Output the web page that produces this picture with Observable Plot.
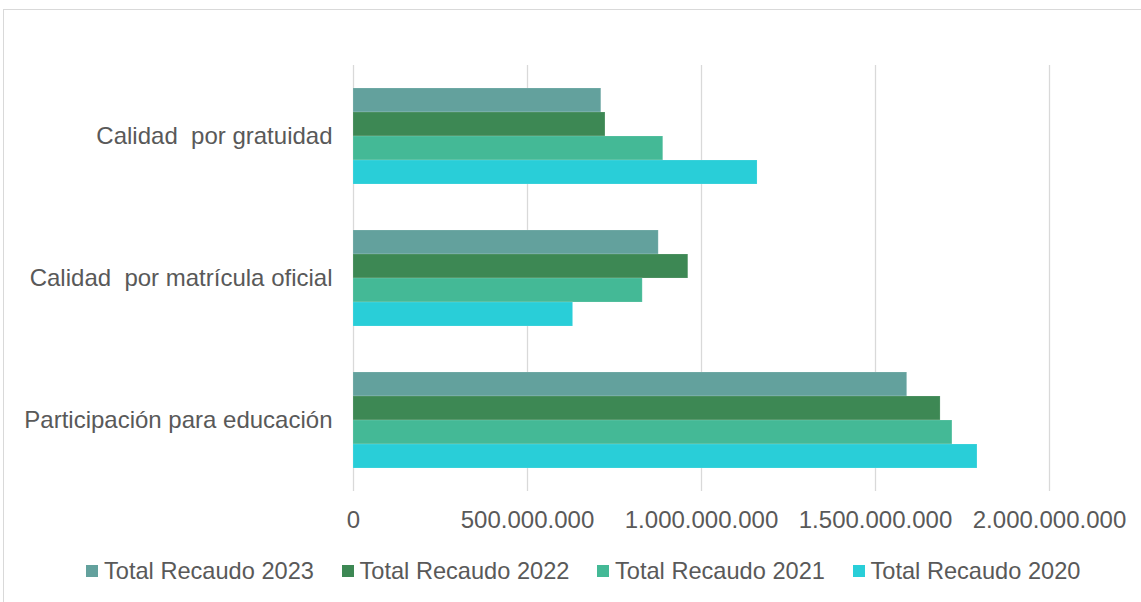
<!DOCTYPE html>
<html>
<head>
<meta charset="utf-8">
<script src="https://cdn.jsdelivr.net/npm/d3@7"></script>
<script src="https://cdn.jsdelivr.net/npm/@observablehq/plot@0.6"></script>
<style>
  html, body { margin: 0; padding: 0; background: #ffffff; overflow: hidden; }
  #wrap { position: relative; width: 1141px; height: 602px; font-family: "Liberation Sans", Arial, sans-serif; }
  #frame { position: absolute; left: 3px; top: 9px; right: -10px; bottom: -10px; border-top: 1px solid #d9d9d9; border-left: 1px solid #d9d9d9; }
  #chart { position: absolute; left: 0; top: 0; }
  #chart svg text { white-space: pre; }
  #legend { position: absolute; left: 86px; top: 557px; display: flex; height: 28px; align-items: center; color: #595959; font-size: 23.6px; }
  .item { display: inline-flex; align-items: center; width: 255.5px; }
  .sw { width: 12px; height: 12px; margin-right: 6px; flex: none; }
</style>
</head>
<body>
<div id="wrap">
  <div id="frame"></div>
  <div id="chart"></div>
  <div id="legend"></div>
</div>
<script>
const categories = ["Calidad  por gratuidad", "Calidad  por matrícula oficial", "Participación para educación"];
const series = ["Total Recaudo 2023", "Total Recaudo 2022", "Total Recaudo 2021", "Total Recaudo 2020"];
const colors = ["#63A19D", "#3D8854", "#44B996", "#29CED8"];
const values2023 = [712e6, 877e6, 1591e6];
const values2022 = [724e6, 962e6, 1687e6];
const values2021 = [890e6, 831e6, 1721e6];
const values2020 = [1161e6, 631e6, 1793e6];
const xTicks = [0, 500e6, 1000e6, 1500e6, 2000e6];

const seriesValues = [values2023, values2022, values2021, values2020];
const data = categories.flatMap((c, i) => series.map((s, j) => ({category: c, series: s, value: seriesValues[j][i]})));

const fmt = d3.formatLocale({decimal: ",", thousands: ".", grouping: [3], currency: ["", ""]}).format(",");

const chart = Plot.plot({
  width: 1141,
  height: 545,
  marginLeft: 353,
  marginRight: 92,
  marginTop: 65,
  marginBottom: 54,
  style: {fontFamily: "'Liberation Sans', Arial, sans-serif", fontSize: "24px", color: "#595959", background: "transparent", overflow: "visible"},
  x: {domain: [0, 2e9], ticks: xTicks, tickFormat: fmt, tickSize: 0, tickPadding: 19, label: null},
  y: {domain: series, paddingInner: 0, paddingOuter: 0.94, axis: null},
  fy: {domain: categories, padding: 0, axis: "left", tickSize: 0, tickPadding: 21, label: null},
  color: {domain: series, range: colors},
  marks: [
    Plot.ruleX(xTicks, {x: d => d, stroke: "#d9d9d9", strokeWidth: 1.3}),
    Plot.barX(data, {x: "value", y: "series", fy: "category", fill: "series", stroke: "#ffffff", strokeOpacity: 0.15, strokeWidth: 1})
  ]
});
document.getElementById("chart").appendChild(chart);

const legend = document.getElementById("legend");
series.forEach((s, i) => {
  const item = document.createElement("span");
  item.className = "item";
  const sw = document.createElement("span");
  sw.className = "sw";
  sw.style.background = colors[i];
  const t = document.createElement("span");
  t.textContent = s;
  item.appendChild(sw);
  item.appendChild(t);
  legend.appendChild(item);
});
</script>
</body>
</html>
